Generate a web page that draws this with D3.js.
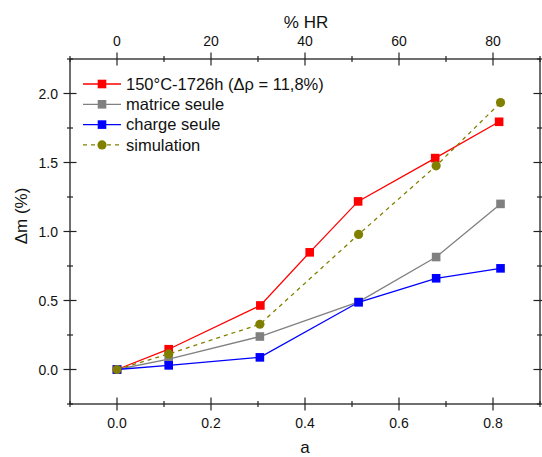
<!DOCTYPE html>
<html><head><meta charset="utf-8">
<script src="https://cdn.jsdelivr.net/npm/d3@7"></script>
<style>body{margin:0;background:#fff}svg{display:block;font-family:"Liberation Sans",Arial,sans-serif}</style>
</head><body>
<svg id="c" width="542" height="457"></svg>
<script>
const aValues = [0, 0.11, 0.305, 0.41, 0.513, 0.677, 0.813];
const aValuesOthers = [0, 0.11, 0.304, 0.514, 0.679, 0.816];
const red = [0, 0.147, 0.464, 0.849, 1.218, 1.532, 1.795];
const gray = [0, 0.075, 0.239, 0.49, 0.815, 1.2];
const blue = [0, 0.03, 0.088, 0.487, 0.661, 0.733];
const sim = [0, 0.113, 0.328, 0.979, 1.476, 1.934];
const seriesNames = ["150°C-1726h (Δρ = 11,8%)", "matrice seule", "charge seule", "simulation"];
const colors = ["#ff0000", "#808080", "#0000ff", "#808000"];
const xTicks = [0, 0.2, 0.4, 0.6, 0.8];
const topTicks = [0, 20, 40, 60, 80];
const yTicks = [0, 0.5, 1.0, 1.5, 2.0];

const svg = d3.select("#c");
const L = 70, R = 540, T = 59, B = 404;
const x = d3.scaleLinear().domain([-0.1, 0.9]).range([L, R]);
const xTop = d3.scaleLinear().domain([-10, 90]).range([L, R]);
const y = d3.scaleLinear().domain([-0.25, 2.25]).range([B, T]);

const g = svg.append("g");
g.append("rect").attr("x", L).attr("y", T).attr("width", R - L).attr("height", B - T)
  .attr("fill", "none").attr("stroke", "#222").attr("stroke-width", 1.3);

const tk = "#222";
d3.range(-0.1, 0.91, 0.1).forEach((v, i) => {
  const h = i % 2 === 1 ? 6.5 : 3;
  g.append("line").attr("x1", x(v)).attr("x2", x(v)).attr("y1", B - h).attr("y2", B + h).attr("stroke", tk).attr("stroke-width", 1.2);
});
d3.range(-10, 91, 10).forEach((v, i) => {
  const h = i % 2 === 1 ? 6.5 : 3;
  g.append("line").attr("x1", xTop(v)).attr("x2", xTop(v)).attr("y1", T - h).attr("y2", T + h).attr("stroke", tk).attr("stroke-width", 1.2);
});
d3.range(-0.25, 2.26, 0.25).forEach((v, i) => {
  const h = i % 2 === 1 ? 6.5 : 3;
  g.append("line").attr("x1", L - h).attr("x2", L + h).attr("y1", y(v)).attr("y2", y(v)).attr("stroke", tk).attr("stroke-width", 1.2);
  g.append("line").attr("x1", R - h).attr("x2", R + h).attr("y1", y(v)).attr("y2", y(v)).attr("stroke", tk).attr("stroke-width", 1.2);
});
const fs = 14;
xTicks.forEach(v => g.append("text").attr("x", x(v)).attr("y", 428).attr("text-anchor", "middle").attr("font-size", fs).attr("fill", "#111").text(d3.format(".1f")(v)));
topTicks.forEach(v => g.append("text").attr("x", xTop(v)).attr("y", 45.5).attr("text-anchor", "middle").attr("font-size", fs).attr("fill", "#111").text(v));
yTicks.forEach(v => g.append("text").attr("x", 58).attr("y", y(v) + 5).attr("text-anchor", "end").attr("font-size", fs).attr("fill", "#111").text(d3.format(".1f")(v)));
g.append("text").attr("x", (L + R) / 2).attr("y", 452.5).attr("text-anchor", "middle").attr("font-size", 17).attr("fill", "#111").text("a");
g.append("text").attr("x", 306).attr("y", 27.5).attr("text-anchor", "middle").attr("font-size", 17).attr("fill", "#111").text("% HR");
g.append("text").attr("transform", "translate(27,216) rotate(-90)").attr("text-anchor", "middle").attr("font-size", 17).attr("fill", "#111").text("Δm (%)");

const data = [
  aValues.map((a, i) => [a, red[i]]),
  aValuesOthers.map((a, i) => [a, gray[i]]),
  aValuesOthers.map((a, i) => [a, blue[i]]),
  aValuesOthers.map((a, i) => [a, sim[i]])
];
const line = d3.line().x(d => x(d[0])).y(d => y(d[1]));
data.forEach((s, k) => {
  g.append("path").attr("d", line(s)).attr("fill", "none").attr("stroke", colors[k]).attr("stroke-width", 1.3)
    .attr("stroke-dasharray", k === 3 ? "4,4" : null);
  s.forEach(d => {
    if (k === 3) g.append("circle").attr("cx", x(d[0])).attr("cy", y(d[1])).attr("r", 4.6).attr("fill", colors[k]);
    else g.append("rect").attr("x", x(d[0]) - 4.3).attr("y", y(d[1]) - 4.3).attr("width", 8.6).attr("height", 8.6).attr("fill", colors[k]);
  });
});
seriesNames.forEach((n, k) => {
  const yy = 84 + k * 20.3;
  g.append("line").attr("x1", 83).attr("x2", 121).attr("y1", yy).attr("y2", yy).attr("stroke", colors[k]).attr("stroke-width", 1.3)
    .attr("stroke-dasharray", k === 3 ? "4,4" : null);
  if (k === 3) g.append("circle").attr("cx", 102).attr("cy", yy).attr("r", 4.6).attr("fill", colors[k]);
  else g.append("rect").attr("x", 102 - 4.3).attr("y", yy - 4.3).attr("width", 8.6).attr("height", 8.6).attr("fill", colors[k]);
  g.append("text").attr("x", 126).attr("y", yy + 5.7).attr("font-size", 16.5).attr("fill", "#111").text(n);
});
</script>
</body></html>
